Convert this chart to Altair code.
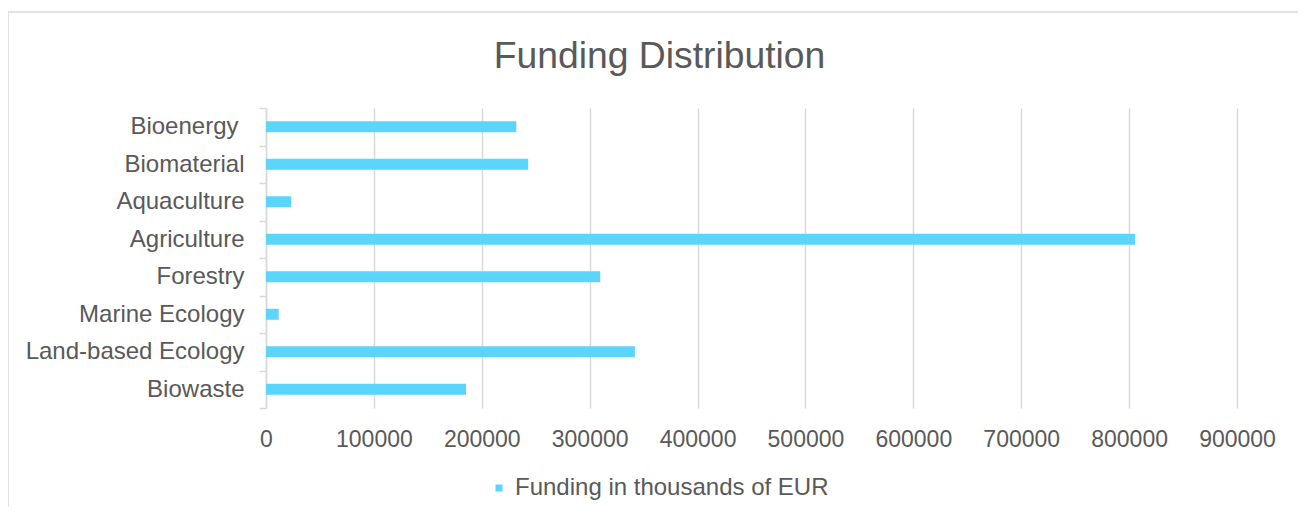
import altair as alt
import pandas as pd

categories = ["Bioenergy ", "Biomaterial", "Aquaculture", "Agriculture",
              "Forestry", "Marine Ecology", "Land-based Ecology", "Biowaste"]
values = [232000, 243000, 23400, 805500, 309800, 11800, 341900, 185400]
series_name = "Funding in thousands of EUR"
x_ticks = [0, 100000, 200000, 300000, 400000, 500000, 600000, 700000, 800000, 900000]
title_text = "Funding Distribution"

df = pd.DataFrame({"category": categories, "value": values, "series": series_name})

W, H = 971, 300
TEXT = "#595959"
GRID = "#D9D9D9"
BAR = "#5BD5FC"
FONT = "Liberation Sans"

# trailing space of "Bioenergy " is kept as extra label padding (SVG drops it)
ylabel_pad = {"condition": {"test": f"datum.value == '{categories[0]}'", "value": 21},
              "value": 15}

bars = alt.Chart(df).mark_bar(size=11).encode(
    x=alt.X("value:Q",
            scale=alt.Scale(domain=[0, 900000], nice=False, zero=True),
            axis=alt.Axis(values=x_ticks, format="d", title=None, grid=True,
                          gridColor=GRID, gridWidth=1.5, domain=False, ticks=False,
                          tickSize=0, labelPadding=20, labelFontSize=23,
                          labelColor=TEXT, labelFont=FONT, labelFlush=False)),
    y=alt.Y("category:N", sort=categories,
            scale=alt.Scale(paddingInner=0, paddingOuter=0),
            axis=alt.Axis(title=None, domainColor=GRID, domainWidth=1.5,
                          tickColor=GRID, tickWidth=1.5, tickSize=7, tickBand="extent",
                          labelPadding=ylabel_pad, labelFontSize=24, labelColor=TEXT,
                          labelFont=FONT, grid=False, labelLimit=400)),
    color=alt.Color("series:N", scale=alt.Scale(range=[BAR]),
                    legend=alt.Legend(title=None, orient="none", legendX=221, legendY=368,
                                      symbolType="square", symbolSize=49,
                                      labelFontSize=24, labelColor=TEXT, labelFont=FONT,
                                      labelOffset=4, padding=0, direction="horizontal",
                                      symbolStrokeWidth=0, labelLimit=600)),
)

frame = alt.Chart(alt.Data(values=[{"k": 1}])).mark_rect(
    fill="transparent", stroke=GRID, strokeWidth=1.5
).encode(x=alt.value(-258), x2=alt.value(1200), y=alt.value(-96), y2=alt.value(700))

title = alt.Chart(alt.Data(values=[{"t": title_text}])).mark_text(
    fontSize=37.3, color=TEXT, font=FONT, align="center", baseline="alphabetic"
).encode(text="t:N", x=alt.value(393.5), y=alt.value(-40))

chart = alt.layer(frame, bars, title).properties(
    width=W, height=H,
    autosize=alt.AutoSizeParams(type="none"),
    padding={"left": 258, "top": 100, "right": 61, "bottom": 99},
).configure_view(strokeWidth=0)

chart.save("out.html", embed_options={"renderer": "svg", "actions": False})
